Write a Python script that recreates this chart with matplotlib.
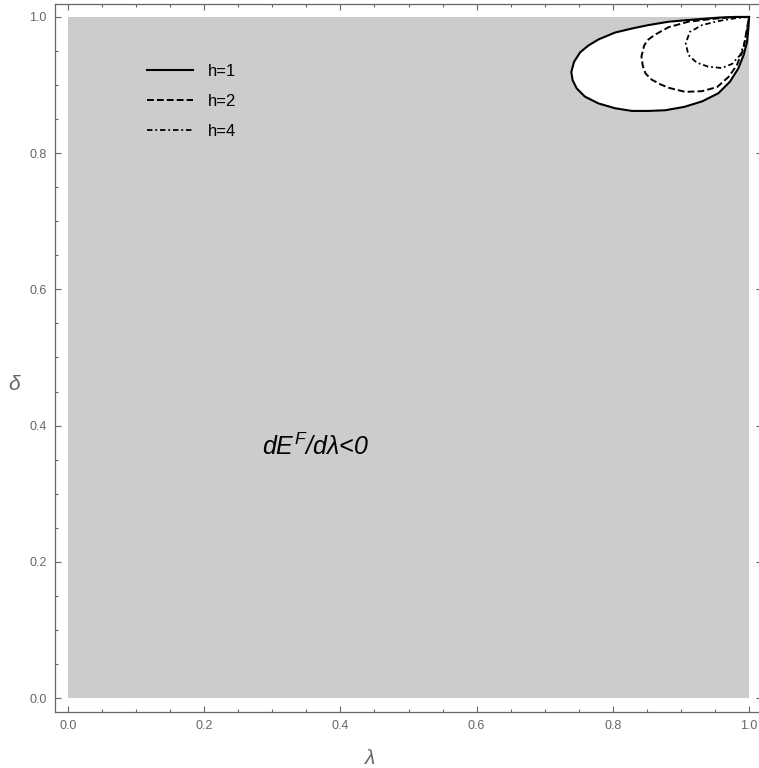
import matplotlib
matplotlib.use('Agg')
import matplotlib.pyplot as plt

# domain of the region plot
lam_range = [0.0, 1.0]
delta_range = [0.0, 1.0]

# contour points (lambda, delta), each loop starts/ends at (1,1)
h1_lam = [1.000, 0.979, 0.955, 0.931, 0.905, 0.882, 0.852, 0.828, 0.803, 0.779, 0.764,
          0.752, 0.743, 0.739, 0.741, 0.747, 0.759, 0.779, 0.803, 0.828, 0.852, 0.877,
          0.905, 0.931, 0.955, 0.972, 0.984, 0.992, 0.997, 0.999, 1.000]
h1_del = [1.000, 1.000, 0.999, 0.997, 0.995, 0.993, 0.988, 0.983, 0.977, 0.967, 0.958,
          0.948, 0.934, 0.919, 0.907, 0.895, 0.883, 0.873, 0.866, 0.862, 0.862, 0.863,
          0.868, 0.876, 0.888, 0.905, 0.924, 0.944, 0.963, 0.983, 1.000]

h2_lam = [1.000, 0.979, 0.945, 0.911, 0.882, 0.862, 0.851, 0.846, 0.842, 0.844, 0.848,
          0.857, 0.870, 0.882, 0.906, 0.931, 0.953, 0.970, 0.982, 0.992, 0.996, 1.000]
h2_del = [1.000, 1.000, 0.997, 0.993, 0.985, 0.974, 0.966, 0.958, 0.942, 0.928, 0.917,
          0.908, 0.901, 0.896, 0.890, 0.891, 0.897, 0.912, 0.929, 0.954, 0.978, 1.000]

h4_lam = [1.000, 0.979, 0.955, 0.931, 0.913, 0.907, 0.911, 0.923, 0.940, 0.960, 0.975,
          0.987, 0.993, 0.997, 1.000]
h4_del = [1.000, 0.998, 0.994, 0.988, 0.978, 0.961, 0.944, 0.933, 0.927, 0.925, 0.931,
          0.944, 0.961, 0.980, 1.000]

labels = ['h=1', 'h=2', 'h=4']
x_ticks = [0.0, 0.2, 0.4, 0.6, 0.8, 1.0]
y_ticks = [0.0, 0.2, 0.4, 0.6, 0.8, 1.0]

plt.rcParams['font.family'] = ['Liberation Sans', 'DejaVu Sans']
plt.rcParams['mathtext.fontset'] = 'custom'
plt.rcParams['mathtext.rm'] = 'Liberation Sans:italic'
plt.rcParams['mathtext.it'] = 'Liberation Sans:italic'

W, H = 759, 768
fig = plt.figure(figsize=(W / 100, H / 100), dpi=100)
ax = fig.add_axes([55 / W, (H - 712) / H, 707 / W, 708 / H])

ax.fill_between(lam_range, delta_range[0], delta_range[1], color='#cccccc', lw=0, zorder=0)
ax.fill(h1_lam, h1_del, color='white', lw=0, zorder=1)

l1, = ax.plot(h1_lam, h1_del, color='black', lw=1.5, zorder=3, solid_joinstyle='round')
l2, = ax.plot(h2_lam, h2_del, color='black', lw=1.4, linestyle=(0, (3.5, 1.6)), zorder=3)
l4, = ax.plot(h4_lam, h4_del, color='black', lw=1.3, linestyle=(0, (3, 1.6, 1, 1.6)), zorder=3)

ax.legend([l1, l2, l4], labels, loc='upper left', bbox_to_anchor=(0.13, 0.915),
          frameon=False, fontsize=12, handlelength=2.75, handletextpad=0.9,
          labelspacing=0.9, borderpad=0, borderaxespad=0)

ax.text(0.364, 0.369, r'$dE^F/d\lambda$<0', fontsize=18, fontstyle='italic',
        ha='center', va='center', zorder=4)

ax.set_xlim(-0.019, 1.019)
ax.set_ylim(-0.0205, 1.019)
ax.set_xticks(x_ticks)
ax.set_yticks(y_ticks)
ax.set_xticklabels([f'{t:.1f}' for t in x_ticks])
ax.set_yticklabels([f'{t:.1f}' for t in y_ticks])
ax.set_xticks([i * 0.05 for i in range(21)], minor=True)
ax.set_yticks([i * 0.05 for i in range(21)], minor=True)
ax.tick_params(which='both', direction='in', top=True, right=True,
               color='#666666', labelcolor='#666666', labelsize=9, width=0.8)
ax.tick_params(which='major', length=4.5, pad=6)
ax.tick_params(which='minor', length=2.5)
for s in ax.spines.values():
    s.set_color('#666666')
    s.set_linewidth(0.9)

fig.text(15 / W, 1 - 385 / H, r'$\delta$', fontsize=15, color='#666666', ha='center', va='center')
fig.text(370 / W, 1 - 758 / H, r'$\lambda$', fontsize=15, color='#666666', ha='center', va='center')

fig.savefig('out.png', dpi=100)
